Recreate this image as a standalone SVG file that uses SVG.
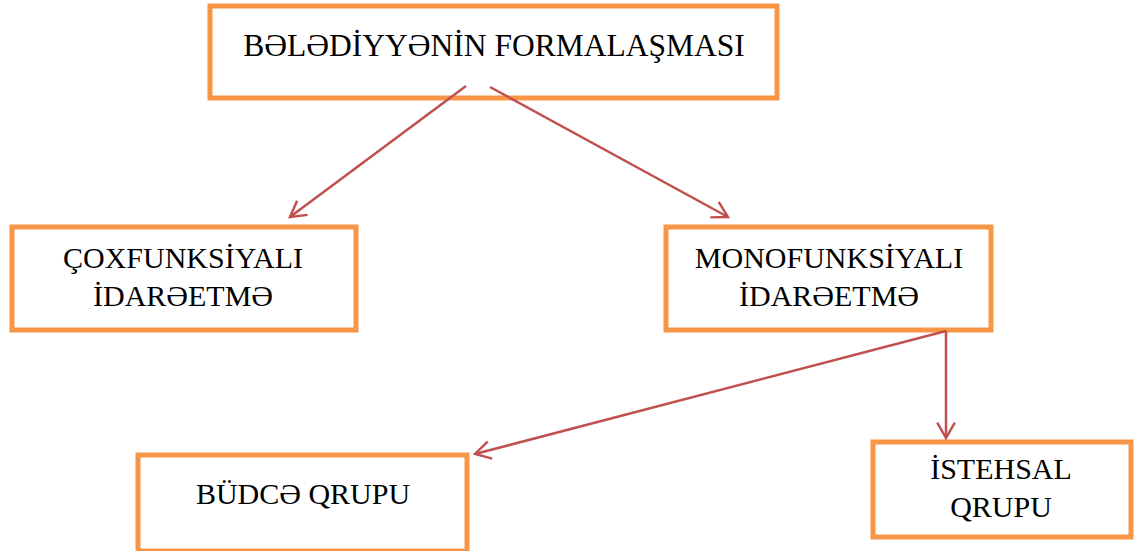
<svg xmlns="http://www.w3.org/2000/svg" width="1134" height="551" viewBox="0 0 1134 551">
<defs>
<style>
.box{fill:#fff;stroke:#F79646;stroke-width:5}
.t{font-family:"Liberation Serif","Times New Roman",serif;font-size:30px;fill:#000;text-anchor:middle}
.c{stroke:#C0504D;stroke-width:2.5;fill:none}
</style>
<marker id="ah" viewBox="0 0 20 20" refX="18" refY="10" markerWidth="22" markerHeight="22" markerUnits="userSpaceOnUse" orient="auto">
<path d="M4,2 L18,10 L4,18" fill="none" stroke="#C0504D" stroke-width="2.2"/>
</marker>
</defs>
<rect width="1134" height="551" fill="#fff"/>
<g id="n1"><rect class="box" x="210" y="6" width="567" height="92"/><text class="t" x="494" y="56" style="font-size:31.5px">BƏLƏDİYYƏNİN FORMALAŞMASI</text></g>
<g id="n2"><rect class="box" x="12" y="227" width="344" height="103"/><text class="t" x="183" y="268">ÇOXFUNKSİYALI</text><text class="t" x="183" y="306">İDARƏETMƏ</text></g>
<g id="n3"><rect class="box" x="666" y="227" width="325" height="103"/><text class="t" x="829" y="268">MONOFUNKSİYALI</text><text class="t" x="829" y="306">İDARƏETMƏ</text></g>
<g id="n4"><rect class="box" x="138" y="455" width="329" height="96"/><text class="t" x="303" y="504">BÜDCƏ QRUPU</text></g>
<g id="n5"><rect class="box" x="873" y="442" width="258" height="95"/><text class="t" x="1001" y="479">İSTEHSAL</text><text class="t" x="1001" y="517">QRUPU</text></g>
<g id="connectors">
<line class="c" x1="466" y1="86" x2="290" y2="217" marker-end="url(#ah)"/>
<line class="c" x1="490" y1="87" x2="728" y2="217" marker-end="url(#ah)"/>
<line class="c" x1="946" y1="331" x2="475" y2="454" marker-end="url(#ah)"/>
<line class="c" x1="946" y1="331" x2="946" y2="438" marker-end="url(#ah)"/>
</g>
</svg>
